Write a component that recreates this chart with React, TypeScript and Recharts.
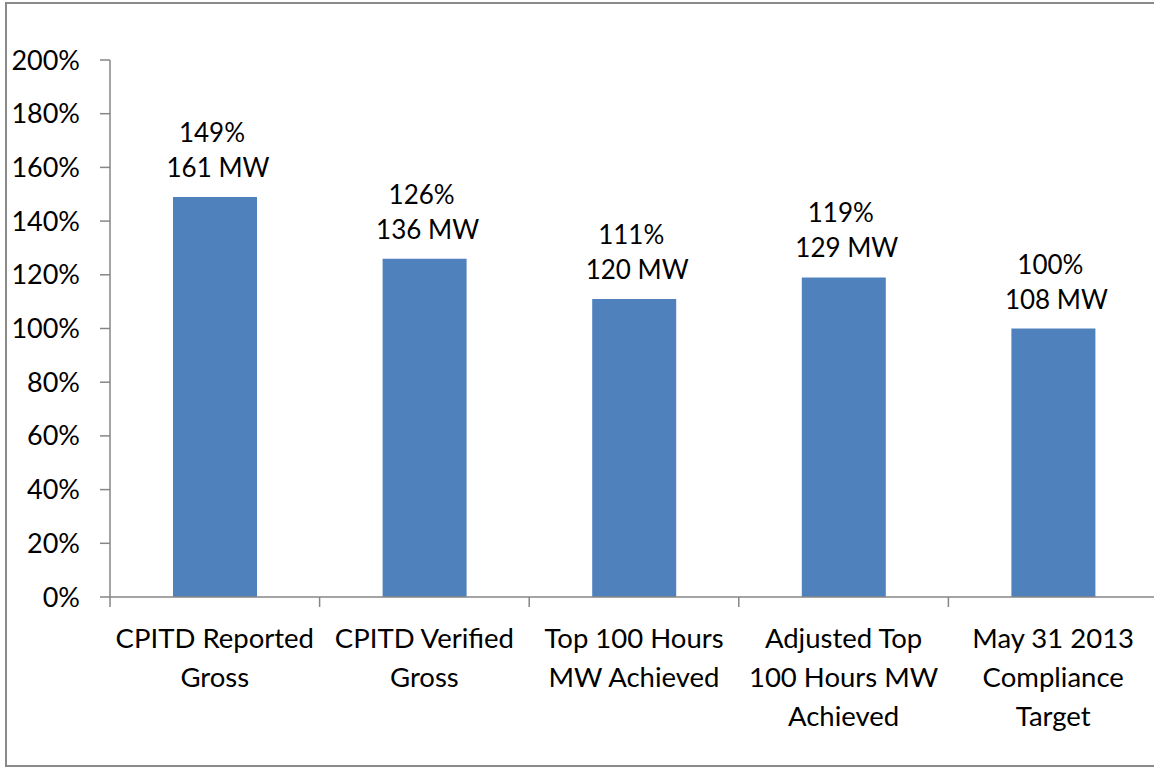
import { BarChart, Bar, XAxis, YAxis, LabelList } from 'recharts';

const categories = [
  'CPITD Reported\nGross',
  'CPITD Verified\nGross',
  'Top 100 Hours\nMW Achieved',
  'Adjusted Top\n100 Hours MW\nAchieved',
  'May 31 2013\nCompliance\nTarget',
];
const percentValues = [149, 126, 111, 119, 100];
const mwValues = [161, 136, 120, 129, 108];
const yTicks = [0, 20, 40, 60, 80, 100, 120, 140, 160, 180, 200];

const data = categories.map((name, i) => ({
  name,
  pct: percentValues[i],
  mw: mwValues[i],
}));

const FONT = 'Lato, "Open Sans", sans-serif';
const AXIS_COLOR = '#868686';
const BAR_COLOR = '#4F81BD';

const CHART_W = 1170;
const CHART_H = 767;
const MARGIN = { top: 60, right: 12, left: 0, bottom: 0 };
const Y_AXIS_W = 110;
const BAND = (CHART_W - MARGIN.left - MARGIN.right - Y_AXIS_W) / categories.length;

// tick y arrives already pushed down by tickSize + tickMargin (8px)
function CategoryTick(props: any) {
  const { x, y, payload, index } = props;
  const lines = String(payload.value).split('\n');
  const axisY = y - 8;
  const left = x - BAND / 2;
  return (
    <g>
      <line x1={left} y1={axisY} x2={left} y2={axisY + 10} stroke={AXIS_COLOR} strokeWidth={1.5} />
      {index === categories.length - 1 && (
        <line x1={x + BAND / 2} y1={axisY} x2={x + BAND / 2} y2={axisY + 10} stroke={AXIS_COLOR} strokeWidth={1.5} />
      )}
      <text x={x} y={axisY + 51} textAnchor="middle" fill="#000" fontSize={27.5} fontFamily={FONT}>
        {lines.map((line: string, i: number) => (
          <tspan key={i} x={x} dy={i === 0 ? 0 : 39}>
            {line}
          </tspan>
        ))}
      </text>
    </g>
  );
}

function TwoLineLabel(props: any) {
  const { x, y, width, index } = props;
  const cx = x + width / 2;
  return (
    <g fontFamily={FONT} fontSize={26} fill="#000">
      <text x={cx - 3} y={y - 55} textAnchor="middle">
        {`${percentValues[index]}%`}
      </text>
      <text x={cx + 3} y={y - 20} textAnchor="middle">
        {`${mwValues[index]} MW`}
      </text>
    </g>
  );
}

export default function App() {
  return (
    <div
      style={{
        position: 'absolute',
        left: 0,
        top: 0,
        width: 1154,
        height: 767,
        overflow: 'hidden',
        background: '#fff',
      }}
    >
      <div
        style={{
          position: 'absolute',
          left: 5,
          top: 2,
          width: 1170,
          height: 761,
          border: '2px solid #8a8a8a',
        }}
      />
      <div style={{ position: 'absolute', left: 0, top: 0 }}>
        <BarChart width={CHART_W} height={CHART_H} data={data} margin={MARGIN} barCategoryGap={0}>
          <YAxis
            type="number"
            domain={[0, 200]}
            ticks={yTicks}
            width={Y_AXIS_W}
            tickFormatter={(v: number) => `${v}%`}
            tick={{ fill: '#000', fontSize: 27, fontFamily: FONT }}
            tickSize={10}
            tickMargin={20}
            axisLine={{ stroke: AXIS_COLOR, strokeWidth: 1.5 }}
            tickLine={{ stroke: AXIS_COLOR, strokeWidth: 1.5 }}
          />
          <XAxis
            dataKey="name"
            height={170}
            interval={0}
            tick={<CategoryTick />}
            tickLine={false}
            axisLine={{ stroke: AXIS_COLOR, strokeWidth: 1.5 }}
          />
          <Bar dataKey="pct" fill={BAR_COLOR} barSize={84} isAnimationActive={false}>
            <LabelList dataKey="pct" content={<TwoLineLabel />} />
          </Bar>
        </BarChart>
      </div>
    </div>
  );
}
